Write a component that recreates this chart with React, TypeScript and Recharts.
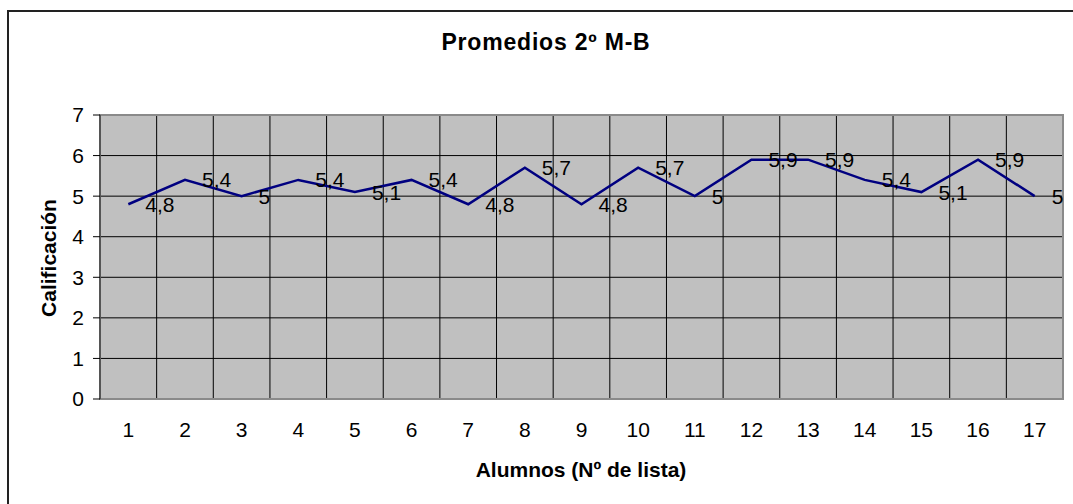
import React from 'react'
import { LineChart, Line, XAxis, YAxis, CartesianGrid, ReferenceArea, LabelList } from 'recharts'

// Nº de lista
const alumnos = [1, 2, 3, 4, 5, 6, 7, 8, 9, 10, 11, 12, 13, 14, 15, 16, 17]
// promedio de cada alumno
const promedios = [4.8, 5.4, 5, 5.4, 5.1, 5.4, 4.8, 5.7, 4.8, 5.7, 5, 5.9, 5.9, 5.4, 5.1, 5.9, 5]
const yTicks = [0, 1, 2, 3, 4, 5, 6, 7]

const data = alumnos.map((n, i) => ({ n, nota: promedios[i] }))
// limites entre categorias (para la grilla vertical)
const limites = [...alumnos.map((n) => n - 0.5), alumnos[alumnos.length - 1] + 0.5]
const dominio: [number, number] = [limites[0], limites[limites.length - 1]]

const FONT = '"Liberation Sans", Arial, sans-serif'

const EtiquetaValor = (props: any) => {
  const { x, y, value } = props
  return (
    <text x={x + 17} y={y} dominantBaseline="central" fontSize={21} fontFamily={FONT} fill="#000">
      {String(value).replace('.', ',')}
    </text>
  )
}

const SinTexto = () => <g />

const grillaVertical = ({ xAxis, offset }: any) =>
  limites.map((v) => {
    if (xAxis && typeof xAxis.scale === 'function') return xAxis.scale(v)
    return offset.left + ((v - dominio[0]) / (dominio[1] - dominio[0])) * offset.width
  })

export default function App() {
  return (
    <div style={{ position: 'absolute', left: 0, top: 0, width: 1073, height: 504, overflow: 'hidden', background: '#fff' }}>
      <div style={{ position: 'absolute', left: 7, top: 10, width: 1200, height: 700, borderLeft: '2px solid #222', borderTop: '2px solid #222' }} />
      <LineChart width={1073} height={504} data={data} margin={{ top: 115, right: 10, left: 0, bottom: 0 }} style={{ position: 'absolute', left: 0, top: 0, fontFamily: FONT }}>
        <CartesianGrid xAxisId="grid" fill="#C0C0C0" fillOpacity={1} stroke="#000" strokeOpacity={1} verticalCoordinatesGenerator={grillaVertical} />
        <XAxis
          xAxisId="grid"
          type="number"
          dataKey="n"
          domain={dominio}
          ticks={limites}
          interval={0}
          height={0}
          tick={SinTexto}
          tickSize={7}
          tickLine={{ stroke: '#000' }}
          axisLine={{ stroke: '#555', strokeWidth: 2 }}
        />
        <XAxis
          xAxisId="lbl"
          type="number"
          dataKey="n"
          domain={dominio}
          ticks={alumnos}
          interval={0}
          height={105}
          axisLine={false}
          tickLine={false}
          tickSize={0}
          tickMargin={23}
          tick={{ fontSize: 21, fill: '#000', fontFamily: FONT }}
        />
        <YAxis
          type="number"
          domain={[0, 7]}
          ticks={yTicks}
          interval={0}
          width={100}
          tickSize={7}
          tickMargin={9}
          tickLine={{ stroke: '#000' }}
          axisLine={{ stroke: '#555', strokeWidth: 2 }}
          tick={{ fontSize: 21, fill: '#000', fontFamily: FONT }}
        />
        <ReferenceArea xAxisId="grid" x1={dominio[0]} x2={dominio[1]} y1={0} y2={7} fill="none" stroke="#8a8a8a" strokeWidth={2} />
        <Line
          xAxisId="lbl"
          type="linear"
          dataKey="nota"
          stroke="#000080"
          strokeWidth={2.5}
          dot={false}
          activeDot={false}
          isAnimationActive={false}
        >
          <LabelList dataKey="nota" content={EtiquetaValor} />
        </Line>
        <text x={546} y={42} textAnchor="middle" dominantBaseline="central" fontSize={23} fontWeight="bold" letterSpacing={0.8} fontFamily={FONT} fill="#000">
          Promedios 2º M-B
        </text>
        <text x={581} y={469} textAnchor="middle" dominantBaseline="central" fontSize={21} fontWeight="bold" fontFamily={FONT} fill="#000">
          Alumnos (Nº de lista)
        </text>
        <text x={48} y={258} transform="rotate(-90 48 258)" textAnchor="middle" dominantBaseline="central" fontSize={21} fontWeight="bold" fontFamily={FONT} fill="#000">
          Calificación
        </text>
      </LineChart>
    </div>
  )
}
